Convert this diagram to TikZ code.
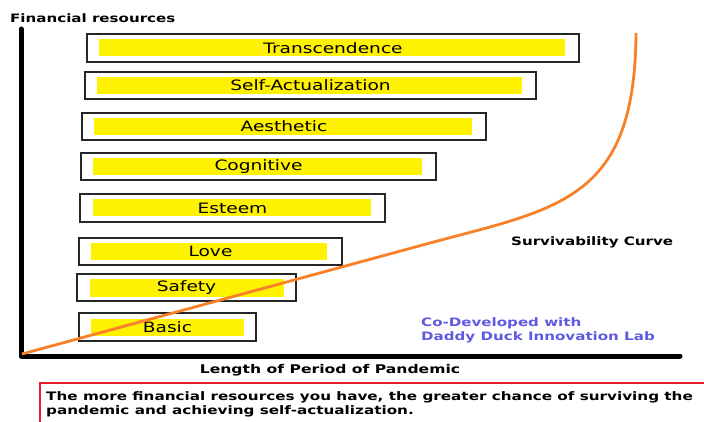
\documentclass[tikz,border=0pt]{standalone}
\usepackage{fontspec}
\setmainfont{DejaVu Sans}[FakeStretch=1.3]
\definecolor{curveorange}{RGB}{247,128,40}
\definecolor{codev}{RGB}{95,90,225}
\definecolor{noteRed}{RGB}{235,30,45}
\begin{document}
\begin{tikzpicture}[x=1pt,y=-1pt,
  levelbox/.style={draw=black!85,line width=1.3pt,inner sep=0pt,
    font=\fontsize{14.3}{16}\selectfont},
  bar/.style={fill=yellow,draw=none},
  axisline/.style={line width=5pt,line cap=round,line join=round},
  survcurve/.style={curveorange,line width=2.8pt},
  boldlabel/.style={font=\fontsize{11.6}{14}\selectfont\bfseries,inner sep=0pt},
]
\useasboundingbox (0,0) rectangle (704,422);
\clip (0,0) rectangle (704,422);

% axis label on top
\node[boldlabel,anchor=west] (ylabel) at (10,18) {Financial resources};

% hierarchy of needs: outer frame, yellow bar, label
\foreach \name/\l/\t/\r/\b/\yl/\yt/\yr/\yb/\txt in {
  tr/87/34/579/62/99/39/565/56/Transcendence,
  sa/85/72/536/99/97/77/522/94/Self-Actualization,
  ae/82/113/486/140/94/118/472/135/Aesthetic,
  co/81/153/436/180/93/158/422/175/Cognitive,
  es/80/194/385/222/93/199/371/216/Esteem,
  lo/79/238/342/265/91/243/327/260/Love,
  sf/77/274/296/301/90/279/284/297/Safety,
  ba/79/313/256/341/91/319/244/336/Basic}{
  \fill[bar] (\yl,\yt) rectangle (\yr,\yb);
  \node[levelbox,minimum width={(\r-\l)*1pt},minimum height={(\b-\t)*1pt}]
    (\name) at ({(\l+\r)/2},{(\t+\b)/2}) {\txt};
}

% axes
\coordinate (ytop) at (21,29);
\coordinate (origin) at (21,356);
\coordinate (xend) at (680,356);
\draw[axisline] (ytop) -- (origin) -- (xend);

% survivability curve
\coordinate (cstart) at (22,354);
\coordinate (bend) at (430,243);
\coordinate (ctop) at (636,33);
\draw[survcurve] (cstart) -- (bend) .. controls (560,208) and (635,200) .. (ctop);

\node[boldlabel,anchor=west] (survlabel) at (511,242) {Survivability Curve};

\node[boldlabel,anchor=west,align=left,text=codev]
  (codevlabel) at (421,330) {Co-Developed with\\Daddy Duck Innovation Lab};

\node[boldlabel,font=\fontsize{12}{14}\selectfont\bfseries] (xlabel) at (330,370) {Length of Period of Pandemic};

% note box
\draw[noteRed,line width=2.6pt] (40,383) rectangle (720,440);
\node[boldlabel,anchor=west,align=left,font=\fontsize{11.7}{14}\selectfont\bfseries] (note) at (46,404)
  {The more financial resources you have, the greater chance of surviving the\\pandemic and achieving self-actualization.};
\end{tikzpicture}
\end{document}
